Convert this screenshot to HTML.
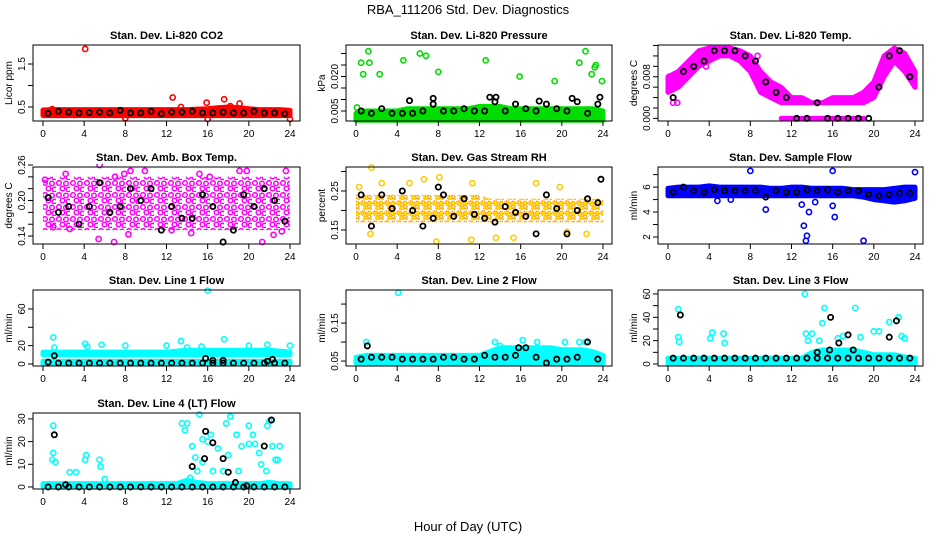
<!DOCTYPE html>
<html><head><meta charset="utf-8"><style>
html,body{margin:0;padding:0;background:#fff;}
svg{display:block;font-family:"Liberation Sans",Arial,sans-serif;}
</style></head><body>
<svg id="chart" width="936" height="540" viewBox="0 0 936 540" xmlns="http://www.w3.org/2000/svg">
<text x="468" y="14" text-anchor="middle" font-size="13">RBA_111206  Std. Dev. Diagnostics</text>
<text x="468" y="531" text-anchor="middle" font-size="13">Hour of Day (UTC)</text>
</svg>
<script>
// shared hourly categories
const hours = [0,1,2,3,4,5,6,7,8,9,10,11,12,13,14,15,16,17,18,19,20,21,22,23,24];
const halfHours = [0.5,1.5,2.5,3.5,4.5,5.5,6.5,7.5,8.5,9.5,10.5,11.5,12.5,13.5,14.5,15.5,16.5,17.5,18.5,19.5,20.5,21.5,22.5,23.5];

// Panel 1: CO2
const co2Lo = [0.3,0.3,0.3,0.3,0.3,0.3,0.3,0.3,0.3,0.3,0.3,0.3,0.3,0.3,0.3,0.3,0.3,0.3,0.3,0.3,0.3,0.3,0.3,0.3,0.3];
const co2Hi = [0.43,0.44,0.44,0.44,0.44,0.44,0.44,0.44,0.44,0.44,0.44,0.44,0.44,0.44,0.44,0.45,0.46,0.48,0.5,0.48,0.46,0.44,0.44,0.44,0.42];
const co2Mean = [0.35,0.4,0.38,0.36,0.37,0.38,0.36,0.42,0.36,0.36,0.4,0.34,0.38,0.38,0.4,0.36,0.36,0.38,0.36,0.36,0.4,0.36,0.36,0.34];
const co2OutX = [4.1,12.6,15.9,17.6,19.1,13.4,18.2,8,16,24,0.9];
const co2OutY = [1.85,0.72,0.6,0.68,0.58,0.5,0.52,0.24,0.22,0.22,0.45];

// Panel 2: Pressure
const prLo = [0.001,0.001,0.001,0.001,0.001,0.001,0.001,0.001,0.001,0.001,0.001,0.001,0.001,0.001,0.001,0.001,0.001,0.001,0.001,0.001,0.001,0.001,0.001,0.001,0.001];
const prHi = [0.004,0.005,0.005,0.005,0.005,0.006,0.006,0.006,0.006,0.006,0.006,0.006,0.007,0.007,0.007,0.006,0.006,0.006,0.006,0.006,0.006,0.006,0.006,0.006,0.005];
const prMean = [0.005,0.004,0.006,0.004,0.004,0.004,0.005,0.008,0.005,0.005,0.006,0.005,0.005,0.009,0.005,0.008,0.006,0.005,0.008,0.006,0.005,0.009,0.004,0.008];
const prOutX = [0.5,0.7,1.2,1.3,2.3,4.6,6.2,6.8,8,12.6,15.9,19.3,21.7,22.3,22.9,23.2,23.3,23.9,0.1];
const prOutY = [0.026,0.021,0.031,0.026,0.021,0.027,0.030,0.029,0.022,0.027,0.020,0.018,0.026,0.031,0.021,0.024,0.025,0.018,0.0065];
const prBlkX = [5.2,7.5,13,13.6,23.7,17.8,21];
const prBlkY = [0.0095,0.0105,0.011,0.011,0.011,0.0093,0.0105];

// Panel 3: Temp
const tpLo = [0.005,0.006,0.008,0.010,0.011,0.012,0.012,0.011,0.009,0.005,0.004,0.003,0.003,0.003,0.003,0.003,0.003,0.003,0.003,0.003,0.004,0.008,0.011,0.009,0.006];
const tpHi = [0.008,0.009,0.011,0.013,0.0135,0.0135,0.0135,0.013,0.012,0.009,0.007,0.006,0.004,0.004,0.003,0.003,0.004,0.004,0.004,0.005,0.007,0.012,0.0135,0.0125,0.009];
const tpZeroLo = [null,null,null,null,null,null,null,null,null,null,null,0,0,0,0,0,0,0,0,0,null,null,null,null,null];
const tpZeroHi = [null,null,null,null,null,null,null,null,null,null,null,0,0,0,0,0,0,0,0,0,null,null,null,null,null];
const tpMean = [0.004,0.009,0.010,0.011,0.013,0.013,0.013,0.012,0.011,0.007,0.005,0.004,0.000,0.000,0.003,0.000,0.000,0.000,0.000,0.000,0.006,0.012,0.013,0.008];
const tpOutX = [0.1,0.9,0.5,3.7,8.7];
const tpOutY = [0.008,0.003,0.003,0.010,0.012];

// Panel 4: Amb box temp
const abLo = [0.15,0.15,0.15,0.15,0.15,0.15,0.15,0.15,0.15,0.15,0.15,0.15,0.15,0.15,0.15,0.15,0.15,0.15,0.15,0.15,0.15,0.15,0.15,0.15,0.15];
const abHi = [0.24,0.24,0.24,0.24,0.24,0.24,0.24,0.24,0.24,0.24,0.24,0.24,0.24,0.24,0.24,0.24,0.24,0.24,0.24,0.24,0.24,0.24,0.24,0.24,0.24];
const abMean = [0.205,0.18,0.19,0.16,0.19,0.23,0.18,0.19,0.22,0.2,0.22,0.15,0.19,0.17,0.17,0.21,0.19,0.13,0.15,0.21,0.19,0.22,0.2,0.165];
const abOutX = [0.2,2.2,5.5,7,7.9,8.5,9.9,6.9,5.4,1,2.6,8.3,12.5,14.4,19.1,19.8,21.3,22.4,23.2,23.6,16.2,15.2];
const abOutY = [0.235,0.245,0.26,0.24,0.245,0.25,0.25,0.13,0.135,0.155,0.152,0.143,0.15,0.145,0.25,0.25,0.13,0.142,0.148,0.25,0.24,0.245];

// Panel 5: Gas stream RH
const rhLo = [0.17,0.17,0.17,0.17,0.17,0.17,0.17,0.17,0.17,0.17,0.17,0.17,0.17,0.17,0.17,0.17,0.17,0.17,0.17,0.17,0.17,0.17,0.17,0.17,0.17];
const rhHi = [0.24,0.24,0.24,0.24,0.24,0.24,0.24,0.24,0.24,0.24,0.24,0.24,0.24,0.23,0.23,0.23,0.23,0.23,0.23,0.23,0.23,0.23,0.23,0.23,0.23];
const rhMean = [0.24,0.16,0.24,0.205,0.25,0.20,0.16,0.18,0.24,0.185,0.23,0.19,0.18,0.17,0.21,0.195,0.185,0.14,0.24,0.205,0.14,0.2,0.23,0.22];
const rhOutX = [1.5,7.8,11.2,17.5,8.1,0.3,2.5,5.2,11.3,13.6,15.3,22.4,1.4,20.5,6.6,19.8];
const rhOutY = [0.31,0.12,0.125,0.27,0.285,0.26,0.27,0.27,0.27,0.13,0.13,0.14,0.14,0.145,0.28,0.26];
const rhBlkX = [23.8,8];
const rhBlkY = [0.28,0.26];

// Panel 6: Sample flow
const sfLo = [5.3,5.3,5.3,5.3,5.3,5.3,5.3,5.3,5.3,5.3,5.3,5.3,5.3,5.3,5.3,5.3,5.3,5.3,5.3,5.2,5.0,4.9,4.8,4.9,5.1];
const sfHi = [5.9,6.0,6.0,6.0,6.1,6.0,6.0,6.0,6.0,6.0,5.9,5.9,6.0,6.0,5.9,5.9,5.9,5.9,5.8,5.8,5.8,5.8,5.9,6.0,6.0];
const sfMean = [5.6,6.0,5.7,5.6,5.8,5.7,5.7,5.7,5.7,5.2,5.7,5.6,5.6,5.8,5.7,5.8,5.6,5.7,5.7,5.4,5.3,5.4,5.5,5.5];
const sfOutX = [8,16,24,9.5,13,13.2,13.4,13.5,13.7,14.3,16,16.2,19,4.8,6.1];
const sfOutY = [7.3,7.3,7.2,4.2,4.6,2.9,1.7,2.1,4,4.8,4.5,3.6,1.7,4.9,5];

// Panel 7: Line 1 flow
const l1LoA = [0,0,0,0,0,0,0,0,0,0,0,0,0,0,0,0,0,0,0,0,0,0,0,0,0];
const l1HiA = [3,3,3,3,3,3,3,3,3,3,3,3,3,3,3,3,3,3,3,3,3,3,3,3,3];
const l1LoB = [10,10,10,10,10,10,10,10,10,10,10,10,10,10,10,10,10,10,10,10,10,10,10,10,10];
const l1HiB = [13,13,13,13,13,13,13,13,13,13,13,13,13,14,15,15,15,15,15,15,15,15,15,14,13];
const l1Mean = [2,1,1,1,1,1,1,1,1,1,1,1,1,1,1,1,1,1,1,1,1,1,1,1];
const l1OutX = [1,1.1,4.1,4.3,5.7,8,12,13.4,16,17.6,20,21.8,24,15.4,14];
const l1OutY = [29,18,22,19,21,20,20,25,80,27,20,21,20,19,18];
const l1BlkX = [1.1,15.8,16.5,17.5,21.8,22.3];
const l1BlkY = [9,6,4,4,3,5];

// Panel 8: Line 2 flow
const l2Lo = [0.045,0.045,0.045,0.045,0.045,0.045,0.045,0.045,0.045,0.045,0.045,0.045,0.045,0.045,0.045,0.045,0.045,0.045,0.045,0.045,0.045,0.045,0.045,0.045,0.045];
const l2Hi = [0.06,0.065,0.065,0.065,0.065,0.065,0.065,0.065,0.065,0.065,0.065,0.065,0.065,0.075,0.085,0.085,0.085,0.085,0.085,0.085,0.08,0.08,0.08,0.075,0.065];
const l2Mean = [0.055,0.06,0.06,0.06,0.055,0.055,0.055,0.055,0.06,0.06,0.055,0.055,0.065,0.06,0.06,0.065,0.085,0.06,0.045,0.055,0.055,0.06,0.1,0.055];
const l2OutX = [4.1,1,13.5,14,16.2,17.6,20.3,21.7,22.3];
const l2OutY = [0.23,0.1,0.1,0.09,0.105,0.1,0.1,0.1,0.1];
const l2BlkX = [1.1,15.8];
const l2BlkY = [0.09,0.085];

// Panel 9: Line 3 flow
const l3Lo = [0,0,0,0,0,0,0,0,0,0,0,0,0,0,0,0,0,0,0,0,0,0,0,0,0];
const l3Hi = [5,5,5,5,5,5,5,5,5,5,5,5,5,5,10,12,12,12,12,10,8,8,8,6,5];
const l3Mean = [5,5,5,5,5,5,5,5,5,5,5,5,5,5,5,5,5,5,5,5,5,5,5,5];
const l3OutX = [1,1,1.1,4.1,4.3,5.4,5.5,13.3,13.4,14,15.2,15,18.2,16.5,17,18.7,20,20.5,21.5,22.4,22.7,23,13.6,14.7];
const l3OutY = [47,23,19,22,27,26,18,60,26,26,48,35,48,22,24,23,28,28,36,40,24,22,20,20];
const l3BlkX = [1.2,15.8,16.6,17.5,18,21.5,22.2,14.5,15.7];
const l3BlkY = [42,40,18,25,12,23,37,10,12];

// Panel 10: Line 4 flow
const l4Lo = [0,0,0,0,0,0,0,0,0,0,0,0,0,0,0,0,0,0,0,0,0,0,0,0,0];
const l4Hi = [1.5,1.5,1.5,1.5,1.5,1.5,1.5,1.5,1.5,1.5,1.5,1.5,1.5,1.5,3,2,1.5,1.5,1.5,1.5,1.5,1.5,2,1.5,1.5];
const l4Mean = [0,0,0,0,0,0,0,0,0,0,0,0,0,0,0,0,0,0,0,0,0,0,0,0];
const l4OutX = [1,1,0.9,1.2,2.6,3.2,4.2,4.1,5.5,5.6,6,13.5,14,13.8,14.5,14.8,15.2,15.5,15.5,16,16.3,17,17.8,18.2,18.8,19.3,20,20,20.4,21,21.2,21.8,22,22.3,22.6,23,17.5,16.5,19,21.7,14.3,15,18,20.6,22.8];
const l4OutY = [27,15,12,11,6.5,6.5,14,12,12,9,3.5,28,28,25,18,13,32,21,11,20,23,17,28,31,23,18,27,19,23,15,10,27,29,18,12,18,7,7,7,7,4,7,14,19,12];
const l4BlkX = [1.1,15.8,16.5,17.5,18,15.7,14.5,18.7,21.5,22.2,2.2,19.8];
const l4BlkY = [23,24.5,19.5,12.5,6.5,12.5,9,2,18,29.5,1,0.5];

// Layout
const cols = [{l:33,r:300,x0:43,x24:290,yl:9},{l:346,r:612,x0:356,x24:603,yl:322},{l:658,r:923,x0:668,x24:915,yl:634}];
const rows = [{t:45,b:121},{t:167,b:244},{t:290,b:366},{t:413,b:489}];
const xTicks = [0,4,8,12,16,20,24];

const panels = [
 {name:'co2',c:0,r:0,title:'Stan. Dev. Li-820 CO2',ylab:'Licor ppm',dom:[0.174,1.942],ticks:[0.5,1,1.5],labels:['0.5','','1.5'],color:'#ff0000',fill:'solid',
  bands:[[co2Lo,co2Hi]],mean:co2Mean,ox:co2OutX,oy:co2OutY,bx:[],by:[]},
 {name:'pressure',c:1,r:0,title:'Stan. Dev. Li-820 Pressure',ylab:'kPa',dom:[0.00065,0.0337],ticks:[0.005,0.010,0.015,0.020,0.025,0.030],labels:['0.005','','','0.020','',''],color:'#00dd00',fill:'solid',
  bands:[[prLo,prHi]],mean:prMean,ox:prOutX,oy:prOutY,bx:prBlkX,by:prBlkY},
 {name:'temp',c:2,r:0,title:'Stan. Dev. Li-820 Temp.',ylab:'degrees C',dom:[-0.0005,0.0141],ticks:[0,0.002,0.004,0.006,0.008,0.010,0.012,0.014],labels:['0.000','','','','0.008','','',''],color:'#ff00ff',fill:'solid',
  bands:[[tpLo,tpHi],[tpZeroLo,tpZeroHi]],mean:tpMean,ox:tpOutX,oy:tpOutY,bx:[],by:[]},
 {name:'amb-box-temp',c:0,r:1,title:'Stan. Dev. Amb. Box Temp.',ylab:'degrees C',dom:[0.1266,0.2566],ticks:[0.14,0.16,0.18,0.20,0.22,0.24,0.26],labels:['0.14','','','0.20','','','0.26'],color:'#ff00ff',fill:'cloud',
  bands:[[abLo,abHi]],mean:abMean,ox:abOutX,oy:abOutY,bx:[],by:[]},
 {name:'gas-rh',c:1,r:1,title:'Stan. Dev. Gas Stream RH',ylab:'percent',dom:[0.114,0.3115],ticks:[0.15,0.20,0.25,0.30],labels:['0.15','','0.25',''],color:'#ff9900',fill:'cloudrh',
  bands:[[rhLo,rhHi]],mean:rhMean,ox:rhOutX,oy:rhOutY,bx:rhBlkX,by:rhBlkY},
 {name:'sample-flow',c:2,r:1,title:'Stan. Dev. Sample Flow',ylab:'ml/min',dom:[1.44,7.61],ticks:[2,3,4,5,6,7],labels:['2','','4','','6',''],color:'#0000ff',fill:'solid',
  bands:[[sfLo,sfHi]],mean:sfMean,ox:sfOutX,oy:sfOutY,bx:[],by:[]},
 {name:'line1-flow',c:0,r:2,title:'Stan. Dev. Line 1 Flow',ylab:'ml/min',dom:[-2.2,80.7],ticks:[0,20,40,60],labels:['0','20','','60'],color:'#00ffff',fill:'solid',
  bands:[[l1LoA,l1HiA],[l1LoB,l1HiB]],mean:l1Mean,ox:l1OutX,oy:l1OutY,bx:l1BlkX,by:l1BlkY},
 {name:'line2-flow',c:1,r:2,title:'Stan. Dev. Line 2 Flow',ylab:'ml/min',dom:[0.037,0.237],ticks:[0.05,0.10,0.15,0.20],labels:['0.05','','0.15',''],color:'#00ffff',fill:'solid',
  bands:[[l2Lo,l2Hi]],mean:l2Mean,ox:l2OutX,oy:l2OutY,bx:l2BlkX,by:l2BlkY},
 {name:'line3-flow',c:2,r:2,title:'Stan. Dev. Line 3 Flow',ylab:'ml/min',dom:[-1.7,63.4],ticks:[0,10,20,30,40,50,60],labels:['0','','20','','40','','60'],color:'#00ffff',fill:'solid',
  bands:[[l3Lo,l3Hi]],mean:l3Mean,ox:l3OutX,oy:l3OutY,bx:l3BlkX,by:l3BlkY},
 {name:'line4-flow',c:0,r:3,title:'Stan. Dev. Line 4 (LT) Flow',ylab:'ml/min',dom:[-0.9,32.6],ticks:[0,10,20,30],labels:['0','10','20','30'],color:'#00ffff',fill:'solid',
  bands:[[l4Lo,l4Hi]],mean:l4Mean,ox:l4OutX,oy:l4OutY,bx:l4BlkX,by:l4BlkY}
];

const NS='http://www.w3.org/2000/svg';
const svg=document.getElementById('chart');
function mk(tag,attrs,parent){const e=document.createElementNS(NS,tag);for(const k in attrs)e.setAttribute(k,attrs[k]);(parent||svg).appendChild(e);return e;}

// patterns for clouds
const defs=mk('defs',{});
const pat1=mk('pattern',{id:'cloud',width:'14',height:'12',patternUnits:'userSpaceOnUse'},defs);
mk('circle',{cx:3,cy:3,r:2.3,fill:'none',stroke:'#ff00ff','stroke-width':1.5},pat1);
mk('circle',{cx:10,cy:3.5,r:2.3,fill:'none',stroke:'#ff00ff','stroke-width':1.5},pat1);
mk('circle',{cx:6.5,cy:8.5,r:2.3,fill:'none',stroke:'#ff00ff','stroke-width':1.5},pat1);
mk('circle',{cx:12.5,cy:9.5,r:2.3,fill:'none',stroke:'#ff00ff','stroke-width':1.5},pat1);
const pat2=mk('pattern',{id:'cloudrh',width:'12',height:'10',patternUnits:'userSpaceOnUse'},defs);
mk('circle',{cx:3,cy:3,r:2.4,fill:'#ffdd00',stroke:'#ff7700','stroke-width':1,'stroke-dasharray':'1 1'},pat2);
mk('circle',{cx:9,cy:3.5,r:2.4,fill:'#ffdd00',stroke:'#ff7700','stroke-width':1,'stroke-dasharray':'1 1'},pat2);
mk('circle',{cx:6,cy:8,r:2.4,fill:'#ffdd00',stroke:'#ff7700','stroke-width':1,'stroke-dasharray':'1 1'},pat2);
mk('circle',{cx:11.5,cy:8.5,r:2,fill:'#ffdd00',stroke:'#ff7700','stroke-width':1,'stroke-dasharray':'1 1'},pat2);

panels.forEach(p=>{
  const C=cols[p.c],R=rows[p.r];
  const xs=v=>C.x0+(v/24)*(C.x24-C.x0);
  const ys=v=>R.b-(v-p.dom[0])/(p.dom[1]-p.dom[0])*(R.b-R.t);
  const g=mk('g',{});
  
  
  const cp='clip-'+p.name;
  const cl=mk('clipPath',{id:cp},defs);
  mk('rect',{x:C.l,y:R.t-3,width:C.r-C.l,height:R.b-R.t+6},cl);
  const plot=mk('g',{'clip-path':'url(#'+cp+')'},g);
  
  
  // bands
  p.bands.forEach((bd,bi)=>{
    const lo=bd[0],hi=bd[1];
    let seg=[];const segs=[];
    hours.forEach((h,i)=>{if(lo[i]===null){if(seg.length)segs.push(seg);seg=[];}else seg.push(i);});
    if(seg.length)segs.push(seg);
    segs.forEach(s=>{
      const top=s.map(i=>xs(hours[i]).toFixed(1)+','+ys(hi[i]).toFixed(1));
      const bot=s.slice().reverse().map(i=>xs(hours[i]).toFixed(1)+','+ys(lo[i]).toFixed(1));
      const solid=p.fill==='solid';
      const fill=solid?p.color:'url(#'+p.fill+')';
      const poly=mk('polygon',{points:top.concat(bot).join(' '),fill:fill,stroke:solid?p.color:'none','stroke-width':solid?5:0,'stroke-linejoin':'round'},plot);
      
      
    });
  });
  // outliers
  p.ox.forEach((x,i)=>{
    const c=mk('circle',{cx:xs(x),cy:ys(p.oy[i]),r:2.6,fill:'none',stroke:p.fill==='cloudrh'?'#ffcc00':p.color,'stroke-width':1.6},plot);
    
    
  });
  // black means
  p.mean.forEach((v,i)=>{
    const c=mk('circle',{cx:xs(halfHours[i]),cy:ys(v),r:2.6,fill:'none',stroke:'#000','stroke-width':1.8},plot);
    
    
  });
  p.bx.forEach((x,i)=>{
    const c=mk('circle',{cx:xs(x),cy:ys(p.by[i]),r:2.6,fill:'none',stroke:'#000','stroke-width':1.8},plot);
    
    
  });
  // box
  const box=mk('rect',{x:C.l,y:R.t,width:C.r-C.l,height:R.b-R.t,fill:'none',stroke:'#000','stroke-width':1},g);
  
  
  // x axis
  const xa=mk('g',{},g);
  
  
  xTicks.forEach(t=>{
    const x=xs(t);
    mk('line',{x1:x,x2:x,y1:R.b,y2:R.b+5,stroke:'#000'},xa);
    const tx=mk('text',{x:x,y:R.b+16,'text-anchor':'middle','font-size':10},xa);
    tx.textContent=t;
    
    
  });
  // y axis
  const ya=mk('g',{},g);
  
  
  p.ticks.forEach((t,i)=>{
    const y=ys(t);
    if(y<R.t-4||y>R.b+4)return;
    mk('line',{x1:C.l-5,x2:C.l,y1:y,y2:y,stroke:'#000'},ya);
    if(p.labels[i]){
      const tx=mk('text',{x:0,y:0,'text-anchor':'middle','font-size':10,transform:'translate('+(C.l-8)+','+y+') rotate(-90)'},ya);
      tx.textContent=p.labels[i];
      
      
    }
  });
  const yl=mk('text',{x:0,y:0,'text-anchor':'middle','font-size':10,transform:'translate('+(C.yl+3)+','+((R.t+R.b)/2)+') rotate(-90)'},g);
  yl.textContent=p.ylab;
  
  
  const tt=mk('text',{x:(C.l+C.r)/2,y:R.t-6,'text-anchor':'middle','font-size':11,'font-weight':'bold'},g);
  tt.textContent=p.title;
  
  
});
</script>
</body></html>
